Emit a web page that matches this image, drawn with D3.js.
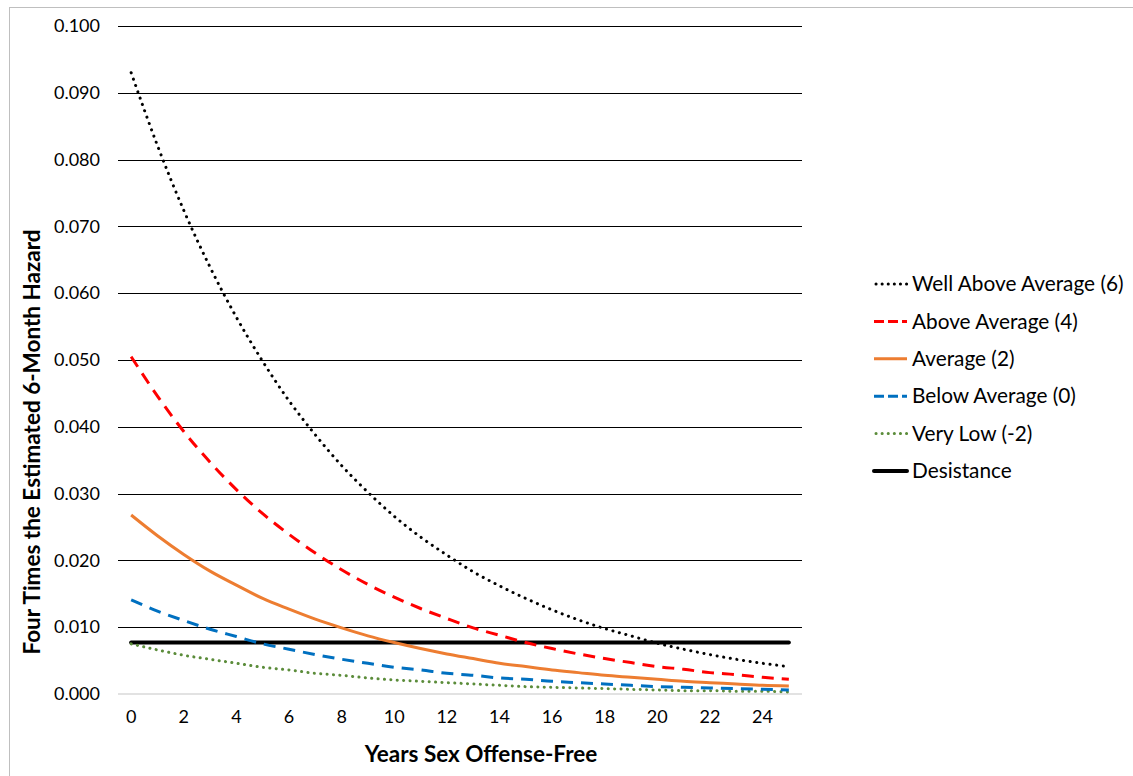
<!DOCTYPE html>
<html>
<head>
<meta charset="utf-8">
<script src="https://cdn.jsdelivr.net/npm/d3@7"></script>
<style>
  body { margin: 0; background: #fff; }
  svg { font-family: Lato, "Open Sans", sans-serif; }
</style>
</head>
<body>
<div id="chart"></div>
<script>
// years on the category axis
var years = d3.range(0, 26);

// values, one per year 0..25
var wellAbove = [0.0930, 0.0821, 0.0724, 0.0639, 0.0564, 0.0498, 0.0439, 0.0388, 0.0342, 0.0302,
  0.0266, 0.0235, 0.0208, 0.0183, 0.0162, 0.0143, 0.0126, 0.0111, 0.0098, 0.0087,
  0.0076, 0.0067, 0.0059, 0.0052, 0.0046, 0.0041];
var aboveAvg = [0.0505, 0.0446, 0.0393, 0.0347, 0.0306, 0.0270, 0.0239, 0.0211, 0.0186, 0.0164,
  0.0145, 0.0128, 0.0113, 0.0099, 0.0088, 0.0077, 0.0068, 0.0060, 0.0053, 0.0047,
  0.0041, 0.0037, 0.0032, 0.0029, 0.0025, 0.0022];
var average = [0.0268, 0.0237, 0.0209, 0.0184, 0.0163, 0.0143, 0.0127, 0.0112, 0.0099, 0.0087,
  0.0077, 0.0068, 0.0060, 0.0053, 0.0046, 0.0041, 0.0036, 0.0032, 0.0028, 0.0025,
  0.0022, 0.0019, 0.0017, 0.0015, 0.0013, 0.0012];
var belowAvg = [0.0141, 0.0124, 0.0110, 0.0097, 0.0086, 0.0075, 0.0067, 0.0059, 0.0052, 0.0046,
  0.0040, 0.0036, 0.0031, 0.0028, 0.0024, 0.0022, 0.0019, 0.0017, 0.0015, 0.0013,
  0.0011, 0.0010, 0.0009, 0.0008, 0.0007, 0.0006];
var veryLow = [0.0075, 0.0066, 0.0058, 0.0052, 0.0046, 0.0040, 0.0036, 0.0031, 0.0028, 0.0024,
  0.0021, 0.0019, 0.0017, 0.0015, 0.0013, 0.0011, 0.0010, 0.0009, 0.0008, 0.0007,
  0.0006, 0.0005, 0.0005, 0.0004, 0.0004, 0.0003];
var desistance = years.map(function () { return 0.0077; });

var yTicks = [0, 0.01, 0.02, 0.03, 0.04, 0.05, 0.06, 0.07, 0.08, 0.09, 0.1];
var xTicks = [0, 2, 4, 6, 8, 10, 12, 14, 16, 18, 20, 22, 24];

var series = [
  { name: "Well Above Average (6)", values: wellAbove, color: "#000", width: 3, dash: "0.1,6.6", cap: "round" },
  { name: "Above Average (4)", values: aboveAvg, color: "#ff0000", width: 3, dash: "12,8", cap: "butt" },
  { name: "Average (2)", values: average, color: "#ed7d31", width: 3, dash: null, cap: "butt" },
  { name: "Below Average (0)", values: belowAvg, color: "#0070c0", width: 3, dash: "12,8", cap: "butt" },
  { name: "Very Low (-2)", values: veryLow, color: "#5b8c3a", width: 3, dash: "0.1,6.3", cap: "round" },
  { name: "Desistance", values: desistance, color: "#000", width: 4, dash: null, cap: "round" }
];

var width = 1133, height = 776;
var plot = { left: 118, right: 802, top: 26, bottom: 694 };

var svg = d3.select("#chart").append("svg")
  .attr("width", width)
  .attr("height", height);

// chart frame
svg.append("rect")
  .attr("x", 9.5).attr("y", 7.5)
  .attr("width", width).attr("height", height)
  .attr("fill", "none")
  .attr("stroke", "#bfbfbf")
  .attr("stroke-width", 1);

var x = d3.scaleBand()
  .domain(years)
  .range([plot.left, plot.right]);

var xc = function (d) { return x(d) + x.bandwidth() / 2; };

var y = d3.scaleLinear()
  .domain([0, 0.1])
  .range([plot.bottom, plot.top]);

// gridlines
svg.append("g")
  .selectAll("line")
  .data(yTicks.filter(function (d) { return d > 0; }))
  .enter().append("line")
  .attr("x1", plot.left).attr("x2", plot.right)
  .attr("y1", function (d) { return Math.round(y(d)) + 0.5; })
  .attr("y2", function (d) { return Math.round(y(d)) + 0.5; })
  .attr("stroke", "#000")
  .attr("stroke-width", 1);

// y axis labels
var yAxis = d3.axisLeft(y)
  .tickValues(yTicks)
  .tickFormat(d3.format(".3f"))
  .tickSize(0)
  .tickPadding(0);

svg.append("g")
  .attr("transform", "translate(100,0)")
  .call(yAxis)
  .call(function (g) { g.select(".domain").remove(); })
  .selectAll("text")
  .attr("font-size", 18)
  .attr("font-family", "Lato, sans-serif")
  .attr("fill", "#000");

// x axis
svg.append("line")
  .attr("x1", plot.left).attr("x2", plot.right)
  .attr("y1", plot.bottom).attr("y2", plot.bottom)
  .attr("stroke", "#d9d9d9")
  .attr("stroke-width", 1.5);

var xAxis = d3.axisBottom(x)
  .tickValues(xTicks)
  .tickSize(0)
  .tickPadding(0);

svg.append("g")
  .attr("transform", "translate(0," + 710 + ")")
  .call(xAxis)
  .call(function (g) { g.select(".domain").remove(); })
  .selectAll("text")
  .attr("font-size", 18)
  .attr("font-family", "Lato, sans-serif")
  .attr("fill", "#000");

// lines
var line = d3.line()
  .x(function (d, i) { return xc(years[i]); })
  .y(function (d) { return y(d); })
  .curve(d3.curveMonotoneX);

svg.append("g")
  .selectAll("path")
  .data(series.slice().reverse())
  .enter().append("path")
  .attr("d", function (d) { return line(d.values); })
  .attr("fill", "none")
  .attr("stroke", function (d) { return d.color; })
  .attr("stroke-width", function (d) { return d.width; })
  .attr("stroke-dasharray", function (d) { return d.dash; })
  .attr("stroke-linecap", function (d) { return d.cap; });

// axis titles
svg.append("text")
  .attr("x", 481).attr("y", 762)
  .attr("text-anchor", "middle")
  .attr("font-size", 22.5)
  .attr("font-weight", "bold")
  .text("Years Sex Offense-Free");

svg.append("text")
  .attr("transform", "translate(40,442) rotate(-90)")
  .attr("text-anchor", "middle")
  .attr("font-size", 22.5)
  .attr("font-weight", "bold")
  .text("Four Times the Estimated 6-Month Hazard");

// legend
var legend = svg.append("g")
  .selectAll("g")
  .data(series)
  .enter().append("g")
  .attr("transform", function (d, i) { return "translate(874," + (284 + i * 37.4) + ")"; });

legend.append("line")
  .attr("x1", function (d) { return d.cap === "round" && d.dash ? 2 : 0; })
  .attr("x2", 33)
  .attr("stroke", function (d) { return d.color; })
  .attr("stroke-width", function (d) { return d.width; })
  .attr("stroke-dasharray", function (d) { return d.dash ? (d.cap === "round" ? "0.1,6" : "10,4") : null; })
  .attr("stroke-linecap", function (d) { return d.cap; });

legend.append("text")
  .attr("x", 38)
  .attr("dy", "0.35em")
  .attr("font-size", 20.8)
  .text(function (d) { return d.name; });
</script>
</body>
</html>
